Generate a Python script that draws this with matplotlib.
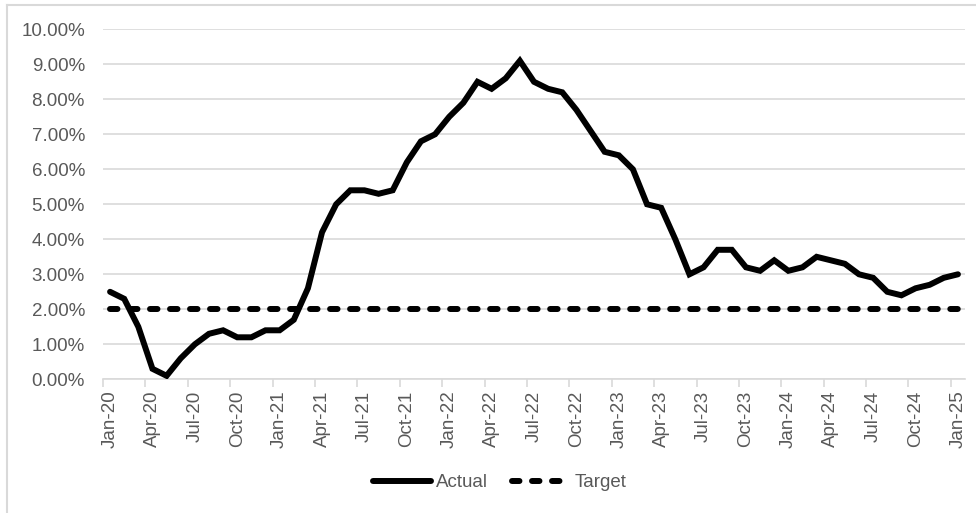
import matplotlib.pyplot as plt
from matplotlib.lines import Line2D
from matplotlib.ticker import FixedLocator, FuncFormatter

plt.rcParams['font.family'] = ['Liberation Sans', 'DejaVu Sans']

# monthly CPI inflation, Jan-20 .. Jan-25
months = ['Jan', 'Feb', 'Mar', 'Apr', 'May', 'Jun',
          'Jul', 'Aug', 'Sep', 'Oct', 'Nov', 'Dec']
labels = [f'{m}-{y}' for y in range(20, 25) for m in months] + ['Jan-25']

actual = [2.5, 2.3, 1.5, 0.3, 0.1, 0.6, 1.0, 1.3, 1.4, 1.2, 1.2, 1.4,
          1.4, 1.7, 2.6, 4.2, 5.0, 5.4, 5.4, 5.3, 5.4, 6.2, 6.8, 7.0,
          7.5, 7.9, 8.5, 8.3, 8.6, 9.1, 8.5, 8.3, 8.2, 7.7, 7.1, 6.5,
          6.4, 6.0, 5.0, 4.9, 4.0, 3.0, 3.2, 3.7, 3.7, 3.2, 3.1, 3.4,
          3.1, 3.2, 3.5, 3.4, 3.3, 3.0, 2.9, 2.5, 2.4, 2.6, 2.7, 2.9,
          3.0]
target = [2.0] * len(actual)

text_color = '#595959'
grid_color = '#d9d9d9'

fig = plt.figure(figsize=(9.76, 5.13), dpi=100)
ax = fig.add_axes([103 / 976, 1 - 379.3 / 513, 862 / 976, 350 / 513])

x = list(range(len(actual)))
ax.plot(x, actual, color='black', lw=4.3, solid_capstyle='round',
        solid_joinstyle='miter', label='Actual', zorder=3)
ax.plot(x, target, color='black', lw=4.3, dashes=(1.25, 2.1),
        dash_capstyle='round', label='Target', zorder=3)

ax.set_xlim(-0.5, len(actual) - 0.5)
ax.set_ylim(0, 10)
ax.set_yticks(range(0, 11))
ax.yaxis.set_major_formatter(FuncFormatter(lambda v, p: f'{v:.2f}%'))
ax.grid(axis='y', color=grid_color, lw=1.2)
ax.set_axisbelow(True)

# labels at category centres, tick marks on category boundaries
ax.set_xticks(x[::3])
ax.set_xticklabels(labels[::3], rotation=90)
ax.xaxis.set_minor_locator(FixedLocator([i - 0.5 for i in x[::3]]))
ax.tick_params(axis='x', which='major', length=0, pad=8)
ax.tick_params(axis='x', which='minor', length=6, width=1.2, color=grid_color)
ax.tick_params(axis='y', length=0, pad=13)
ax.tick_params(labelsize=13.5, labelcolor=text_color)

for s in ['top', 'right', 'left']:
    ax.spines[s].set_visible(False)
ax.spines['bottom'].set_color(grid_color)
ax.spines['bottom'].set_linewidth(1.2)

handles = [Line2D([], [], color='black', lw=4.3, solid_capstyle='round'),
           Line2D([], [], color='black', lw=4.3, dashes=(1.25, 2.1),
                  dash_capstyle='round')]
fig.legend(handles, ['Actual', 'Target'], loc='center',
           bbox_to_anchor=(500 / 976, 1 - 482.5 / 513), ncol=2, frameon=False,
           fontsize=13.5, labelcolor=text_color, handlelength=3.1,
           handletextpad=0.25, columnspacing=1.3)

# chart border (only left and top visible in the frame)
fig.add_artist(Line2D([6.5 / 976, 6.5 / 976], [0, 1 - 5 / 513],
                      color=grid_color, lw=1.5))
fig.add_artist(Line2D([6.5 / 976, 1], [1 - 5 / 513, 1 - 5 / 513],
                      color=grid_color, lw=1.5))

fig.savefig('out.png', dpi=100)
